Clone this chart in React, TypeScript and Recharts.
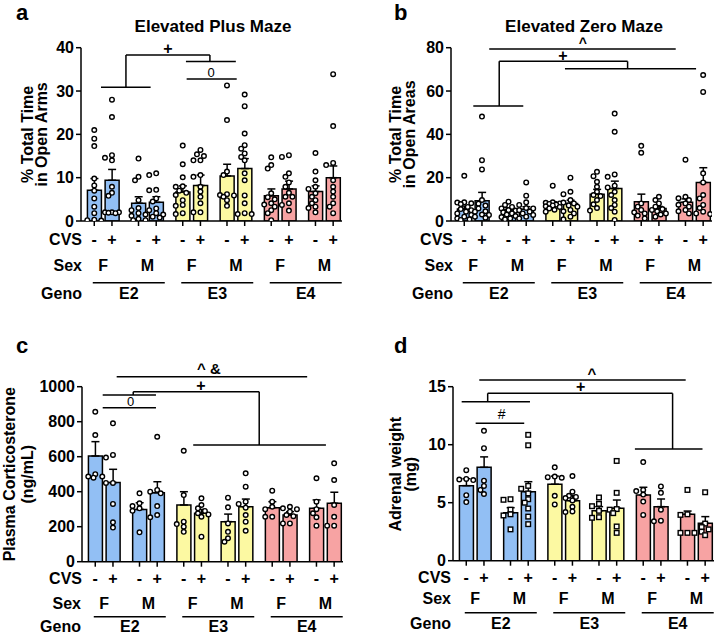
import React from 'react';
import { ComposedChart, Bar, Cell, ErrorBar, Scatter, XAxis, YAxis, ReferenceLine, ReferenceDot } from 'recharts';

const FONT = '"Liberation Sans", Arial, Helvetica, sans-serif';
const W = 359;
const H = 317;
const X_DOMAIN: [number, number] = [-1.5, 28];

const cvsLabels = ['-', '+', '-', '+', '-', '+', '-', '+', '-', '+', '-', '+'];
const sexLabels = ['F', 'M', 'F', 'M', 'F', 'M'];
const genoLabels = ['E2', 'E3', 'E4'];
const genoColors = ['#92bff4', '#fcf9a2', '#f7a3a3'];

// x slots: pairs of bars, wider gap between pairs
const barPos = cvsLabels.map((_, i) => Math.floor(i / 2) * 5 + (i % 2) * 2);
const sexPos = sexLabels.map((_, p) => p * 5 + 1);
const genoPos = genoLabels.map((_, g) => g * 10 + 3.9);

// a: Elevated Plus Maze, % time in open arms
const epmMean = [7.1, 9.4, 4.1, 4.3, 6.7, 8.2, 10.4, 12.1, 5.8, 7.4, 6.8, 10.0];
const epmSem = [2.7, 2.5, 1.5, 1.3, 1.4, 2.4, 2.7, 2.3, 1.6, 1.8, 1.3, 2.7];
const epmDots = [
  [21, 19, 17.3, 9.8, 8.2, 7, 5.2, 3.3, 1.8, 0.3, 0.2, 0.1],
  [28, 24, 15.2, 14.6, 14, 7.9, 6.5, 5.8, 2, 2, 2, 1.9, 1.8],
  [14.4, 10.2, 9.4, 4.8, 3, 2.5, 1.8, 1.5, 1.2, 0.5, 0.2, 0.2],
  [11, 10.6, 7.2, 7.1, 5.2, 4.5, 2.9, 2.5, 1.8, 1.5, 1.0, 0.8],
  [17.4, 13.1, 10.1, 8, 7.9, 7, 6.5, 6, 4.8, 3.7, 3.5, 1.8, 1.6],
  [16.4, 15.4, 15, 14, 14, 10.6, 10.2, 7.9, 6.8, 5.6, 4.1, 2, 2],
  [31.3, 23.3, 11.4, 10.6, 6.2, 6, 5.9, 5.6, 4.8, 3.5],
  [29.2, 26.5, 20.2, 17.5, 16.7, 15.6, 14.8, 14, 11, 9.4, 5.9, 4.1, 1.8, 1.6, 1.6],
  [14.7, 12.9, 12.1, 6.4, 5.5, 5, 4.1, 3.8, 3.3, 2.5, 1.8, 0.2],
  [15.2, 14.8, 11, 10.2, 8.9, 7.9, 6.5, 5.6, 5.6, 4.1, 3.7, 2.4],
  [15.7, 11.4, 9.4, 7.9, 7.4, 6.4, 5.6, 4.8, 4.1, 3.3, 3, 2],
  [33.9, 21.9, 13.4, 12.9, 9.4, 7.9, 6.8, 5.6, 4.1, 3.3, 1.8],
];
const epmLines = [
  [0.76, 30.9, 6.37, 30.9], [3.58, 30.9, 3.58, 38.3], [3.58, 38.3, 13.07, 38.3],
  [13.07, 38.3, 13.07, 36.8], [10.36, 36.8, 16.0, 36.8], [10.44, 32.8, 16.1, 32.8],
];
const epmMarks = [
  { x: 8.33, y: 38.5, t: '+', bold: true, size: 16 },
  { x: 13.2, y: 33.3, t: '0', bold: false, size: 13 },
];

// b: Elevated Zero Maze, % time in open areas
const ezmMean = [5.5, 9.4, 5.1, 5.4, 8.1, 8.1, 12.4, 15.0, 8.9, 5.8, 8.6, 17.8];
const ezmSem = [1.4, 3.8, 1.0, 1.2, 0.8, 1.5, 2.2, 3.4, 3.5, 0.9, 1.6, 6.8];
const ezmDots = [
  [20.9, 8.6, 8.5, 8.2, 7.8, 6.5, 5.5, 5, 4.3, 3.5, 2.8, 2, 1.2, 0.8, 0.5],
  [48.2, 28.1, 23.8, 9.7, 8, 7.1, 5.8, 4.5, 4.3, 3, 2.8, 2, 1.5],
  [8.9, 7.4, 6.5, 5.8, 5, 4.8, 4, 3.5, 3, 2.3, 1.8, 1.2, 0.8],
  [17.8, 11.7, 8.6, 7.4, 6, 5.8, 5, 4.3, 3.5, 2.8, 2, 1.2],
  [16.3, 8.6, 8.4, 8.1, 7.9, 7.6, 7.2, 6.8, 6.5, 5.8, 5.2, 4.3],
  [20, 13.5, 12.4, 9.7, 8.5, 8.1, 7.2, 6.6, 5.1, 4.5, 3.5, 2, 0.8],
  [22.7, 20.7, 18.1, 15.8, 13.5, 12, 11.5, 9.7, 7.7, 6, 4.8],
  [49.6, 41.2, 21.5, 20.4, 16.3, 15.5, 13.5, 12, 9.7, 7.4, 6, 4.3, 0.5],
  [34.7, 31.5, 8.1, 6.6, 5.1, 4, 3.5, 2.5, 1.2],
  [11.2, 9.7, 8.1, 6.6, 5.5, 5.1, 4.5, 3.5, 3, 2],
  [28.3, 11.2, 10.5, 9.7, 8.1, 7.5, 6.6, 5.1, 4.5, 3.5],
  [67.4, 59.6, 22, 17.8, 12, 10.4, 7.4, 6, 4.3, 3.5, 3.2],
];
const ezmLines = [
  [2.82, 79.4, 23.9, 79.4], [3.95, 73.7, 18.46, 73.7], [3.95, 73.7, 3.95, 53.1],
  [1.02, 53.1, 6.67, 53.1], [18.46, 73.7, 18.46, 70.3], [11.38, 70.3, 26.2, 70.3],
];
const ezmMarks = [
  { x: 13.4, y: 79.8, t: '^', bold: true, size: 14 },
  { x: 11.15, y: 74.0, t: '+', bold: true, size: 16 },
];

// c: plasma corticosterone (ng/mL)
const cortMean = [604, 452, 299, 394, 324, 277, 229, 314, 309, 267, 305, 334];
const cortSem = [82, 76, 38, 63, 76, 22, 43, 44, 34, 19, 48, 63];
const cortDots = [
  [857, 724, 500, 487, 487, 480],
  [791, 610, 595, 450, 450, 330, 225, 195],
  [391, 334, 318, 305, 291, 168],
  [714, 410, 400, 391, 318, 267, 254],
  [634, 381, 229, 215, 200, 171],
  [362, 324, 305, 290, 277, 270, 257, 143],
  [366, 311, 219, 171, 134, 114],
  [505, 429, 343, 330, 309, 267, 229, 177],
  [406, 343, 314, 300, 257, 257],
  [314, 305, 300, 286, 267, 260, 219, 219],
  [477, 343, 300, 277, 254, 206],
  [562, 467, 324, 257, 206, 206],
];
const cortLines = [
  [2.42, 1057, 23.95, 1057], [4.29, 971, 18.53, 971], [4.29, 971, 4.29, 953],
  [0.84, 953, 6.86, 953], [0.84, 880, 6.86, 880], [18.53, 971, 18.53, 667],
  [11.07, 667, 26.07, 667],
];
const cortMarks = [
  { x: 12.85, y: 1071, t: '^ &', bold: true, size: 15 },
  { x: 11.95, y: 978, t: '+', bold: true, size: 16 },
  { x: 4.0, y: 890, t: '0', bold: false, size: 13 },
];

// d: adrenal weight (mg)
const adrMean = [6.47, 8.05, 4.14, 5.95, 6.59, 5.17, 4.31, 4.52, 5.66, 4.66, 4.0, 3.22];
const adrSem = [0.6, 0.9, 0.43, 0.86, 0.7, 0.45, 0.35, 0.71, 0.67, 0.66, 0.28, 0.58];
const adrDots = [
  [7.8, 7.05, 7.0, 6.95, 5.65, 5.05],
  [11.2, 9.7, 6.9, 6.45, 6.1, 5.75],
  [5.3, 5.25, 4.4, 4.0, 3.9, 2.7],
  [10.85, 9.95, 6.45, 6.2, 5.8, 5.3, 5.0, 4.5, 3.8, 3.15],
  [8.05, 7.25, 7.2, 7.15, 5.6, 4.85],
  [7.3, 5.95, 5.6, 5.5, 5.4, 5.2, 4.65, 4.25, 4.2],
  [5.45, 4.9, 4.7, 4.3, 3.75, 3.7],
  [8.6, 5.85, 4.45, 4.4, 4.1, 2.95, 2.4],
  [8.5, 6.1, 6.0, 5.7, 5.1, 3.95],
  [6.4, 5.85, 4.4, 3.45, 3.4],
  [6.1, 4.0, 3.95, 2.4, 2.4, 2.4],
  [5.9, 3.2, 2.9, 2.7, 2.5, 2.2],
];
const adrLines = [
  [1.47, 15.58, 24.8, 15.58], [2.42, 14.43, 23.32, 14.43], [2.42, 14.43, 2.42, 13.71],
  [-0.52, 13.71, 7.2, 13.71], [23.32, 14.43, 23.32, 9.63], [19.06, 9.63, 26.7, 9.63],
  [1.06, 11.84, 6.55, 11.84],
];
const adrMarks = [
  { x: 14.2, y: 15.65, t: '^', bold: true, size: 15 },
  { x: 12.93, y: 14.55, t: '+', bold: true, size: 16 },
  { x: 4.0, y: 12.2, t: '#', bold: false, size: 14 },
];

const rowsTop = { cvsH: 30, sexH: 26, genoH: 30, cvsBase: 18.6, sexBase: 19.8, genoLine: 5.7, genoBase: 21.8 };
const rowsC = { cvsH: 28, sexH: 22, genoH: 22.3, cvsBase: 17.2, sexBase: 19.4, genoLine: 5, genoBase: 20.6 };
const rowsD = { cvsH: 26, sexH: 21, genoH: 26.3, cvsBase: 16.8, sexBase: 17.6, genoLine: 5, genoBase: 21.4 };

const txt = { fontFamily: FONT, fontWeight: 700, fontSize: 16, fill: '#000' };

// spread dots sideways inside a bar so they do not sit on top of each other
function swarm(vals: number[], pxPerY: number, pxPerX: number) {
  const cands = [0, -3.5, 3.5, -7, 7, -1.75, 1.75, -5.25, 5.25];
  const placed: { x: number; y: number }[] = [];
  vals.forEach((v) => {
    const y = v * pxPerY;
    let best = 0;
    let bestD = -1;
    for (const c of cands) {
      let d = Infinity;
      placed.forEach((p) => {
        d = Math.min(d, Math.hypot(c - p.x, y - p.y));
      });
      if (d >= 4.6) {
        best = c;
        break;
      }
      if (d > bestD) {
        bestD = d;
        best = c;
      }
    }
    placed.push({ x: best, y });
  });
  return placed.map((p) => p.x / pxPerX);
}

const renderDot = (p: any) =>
  p.payload && p.payload.sq ? (
    <rect x={p.cx - 2.3} y={p.cy - 2.3} width={4.6} height={4.6} fill="#fff" stroke="#000" strokeWidth={1.4} />
  ) : (
    <circle cx={p.cx} cy={p.cy} r={2.3} fill="#fff" stroke="#000" strokeWidth={1.4} />
  );

function Panel(props: any) {
  const { left, top, margin, rows, means, sems, dots, yMax, yTicks, lines, marks, squares } = props;
  const plotW = W - margin.left - margin.right - 60;
  const plotH = H - margin.top - margin.bottom - rows.cvsH - rows.sexH - rows.genoH;
  const pxX = plotW / (X_DOMAIN[1] - X_DOMAIN[0]);
  const pxY = plotH / yMax;

  const barData = means.map((m: number, i: number) => ({ x: barPos[i], y: m, err: [0, sems[i]] }));
  const dotData = dots.flatMap((vals: number[], i: number) => {
    const offs = swarm(vals, pxY, pxX);
    return vals.map((v, j) => ({
      x: barPos[i] + offs[j],
      y: v,
      sq: !!squares && Math.floor(i / 2) % 2 === 1,
    }));
  });

  return (
    <div style={{ position: 'absolute', left, top }}>
      <ComposedChart width={W} height={H} data={barData} margin={margin}>
        <XAxis
          dataKey="x"
          type="number"
          domain={X_DOMAIN}
          ticks={barPos}
          interval={0}
          allowDataOverflow
          height={rows.cvsH}
          tickSize={5}
          tickMargin={0}
          axisLine={{ stroke: '#000', strokeWidth: 1.5 }}
          tickLine={{ stroke: '#000', strokeWidth: 1.5 }}
          tick={(p: any) => (
            <text x={p.x} y={p.y + rows.cvsBase} textAnchor="middle" style={txt}>
              {cvsLabels[barPos.indexOf(p.payload.value)]}
            </text>
          )}
        />
        <XAxis
          xAxisId="b_geno"
          dataKey="x"
          type="number"
          domain={X_DOMAIN}
          ticks={genoPos}
          interval={0}
          allowDataOverflow
          height={rows.genoH}
          tickSize={0}
          tickMargin={0}
          axisLine={false}
          tickLine={false}
          tick={(p: any) => (
            <g>
              <line x1={p.x - 36} x2={p.x + 36} y1={p.y + rows.genoLine} y2={p.y + rows.genoLine} stroke="#000" strokeWidth={1.5} />
              <text x={p.x} y={p.y + rows.genoBase} textAnchor="middle" style={txt}>
                {genoLabels[genoPos.indexOf(p.payload.value)]}
              </text>
            </g>
          )}
        />
        <XAxis
          xAxisId="a_sex"
          dataKey="x"
          type="number"
          domain={X_DOMAIN}
          ticks={sexPos}
          interval={0}
          allowDataOverflow
          height={rows.sexH}
          tickSize={0}
          tickMargin={0}
          axisLine={false}
          tickLine={false}
          tick={(p: any) => (
            <text x={p.x} y={p.y + rows.sexBase} textAnchor="middle" style={txt}>
              {sexLabels[sexPos.indexOf(p.payload.value)]}
            </text>
          )}
        />
        <XAxis xAxisId="z_dots" dataKey="x" type="number" domain={X_DOMAIN} allowDataOverflow hide />
        <YAxis
          type="number"
          domain={[0, yMax]}
          ticks={yTicks}
          interval={0}
          allowDataOverflow
          width={60}
          tickSize={5}
          tickMargin={2}
          axisLine={{ stroke: '#000', strokeWidth: 1.5 }}
          tickLine={{ stroke: '#000', strokeWidth: 1.5 }}
          tick={{ ...txt }}
        />
        <Bar dataKey="y" barSize={14} stroke="#000" strokeWidth={1.5} isAnimationActive={false}>
          {means.map((_: number, i: number) => (
            <Cell key={i} fill={genoColors[Math.floor(i / 4)]} />
          ))}
          <ErrorBar dataKey="err" width={4} stroke="#000" strokeWidth={1.5} direction="y" />
        </Bar>
        <Scatter xAxisId="z_dots" data={dotData} dataKey="y" isAnimationActive={false} shape={renderDot} />
        {lines.map((l: number[], i: number) => (
          <ReferenceLine
            key={'l' + i}
            segment={[{ x: l[0], y: l[1] }, { x: l[2], y: l[3] }]}
            stroke="#000"
            strokeWidth={1.5}
            ifOverflow="visible"
          />
        ))}
        {marks.map((m: any, i: number) => (
          <ReferenceDot
            key={'m' + i}
            x={m.x}
            y={m.y}
            r={0}
            ifOverflow="visible"
            shape={(p: any) => (
              <text
                x={p.cx}
                y={p.cy}
                textAnchor="middle"
                style={{ fontFamily: FONT, fontWeight: m.bold ? 700 : 400, fontSize: m.size, fill: '#000' }}
              >
                {m.t}
              </text>
            )}
          />
        ))}
      </ComposedChart>
    </div>
  );
}

const flatText = [
  { x: 16, y: 20, t: 'a', size: 22, anchor: 'start' },
  { x: 394, y: 20, t: 'b', size: 22, anchor: 'start' },
  { x: 16, y: 353, t: 'c', size: 22, anchor: 'start' },
  { x: 394, y: 353, t: 'd', size: 22, anchor: 'start' },
  { x: 213, y: 32, t: 'Elevated Plus Maze', size: 17, anchor: 'middle' },
  { x: 584, y: 32, t: 'Elevated Zero Maze', size: 17, anchor: 'middle' },
  { x: 82, y: 244.6, t: 'CVS', size: 16, anchor: 'end' },
  { x: 82, y: 270.8, t: 'Sex', size: 16, anchor: 'end' },
  { x: 82, y: 298.8, t: 'Geno', size: 16, anchor: 'end' },
  { x: 453, y: 244.6, t: 'CVS', size: 16, anchor: 'end' },
  { x: 453, y: 270.8, t: 'Sex', size: 16, anchor: 'end' },
  { x: 453, y: 298.8, t: 'Geno', size: 16, anchor: 'end' },
  { x: 82, y: 583.9, t: 'CVS', size: 16, anchor: 'end' },
  { x: 81, y: 609.1, t: 'Sex', size: 16, anchor: 'end' },
  { x: 81, y: 632.3, t: 'Geno', size: 16, anchor: 'end' },
  { x: 451, y: 582.5, t: 'CVS', size: 16, anchor: 'end' },
  { x: 451, y: 604.3, t: 'Sex', size: 16, anchor: 'end' },
  { x: 451, y: 629.4, t: 'Geno', size: 16, anchor: 'end' },
];

const rotText = [
  { x: 33, y: 134.4, t: '% Total Time' },
  { x: 47, y: 134.4, t: 'in Open Arms' },
  { x: 401, y: 134.4, t: '% Total Time' },
  { x: 415, y: 134.4, t: 'in Open Areas' },
  { x: 15, y: 474.2, t: 'Plasma Corticosterone' },
  { x: 33, y: 474.2, t: '(ng/mL)' },
  { x: 401.5, y: 474.2, t: 'Adrenal weight' },
  { x: 416, y: 474.2, t: '(mg)' },
];

export default function App() {
  return (
    <div style={{ position: 'absolute', left: 0, top: 0, width: 718, height: 634, background: '#fff' }}>
      <Panel
        left={0}
        top={0}
        margin={{ top: 47.7, right: 17, bottom: 10, left: 21 }}
        rows={rowsTop}
        means={epmMean}
        sems={epmSem}
        dots={epmDots}
        yMax={40}
        yTicks={[0, 10, 20, 30, 40]}
        lines={epmLines}
        marks={epmMarks}
      />
      <Panel
        left={359}
        top={0}
        margin={{ top: 47.7, right: 6, bottom: 10, left: 32 }}
        rows={rowsTop}
        means={ezmMean}
        sems={ezmSem}
        dots={ezmDots}
        yMax={80}
        yTicks={[0, 20, 40, 60, 80]}
        lines={ezmLines}
        marks={ezmMarks}
      />
      <Panel
        left={0}
        top={317}
        margin={{ top: 69.7, right: 16, bottom: 0, left: 22 }}
        rows={rowsC}
        means={cortMean}
        sems={cortSem}
        dots={cortDots}
        yMax={1000}
        yTicks={[0, 200, 400, 600, 800, 1000]}
        lines={cortLines}
        marks={cortMarks}
      />
      <Panel
        left={359}
        top={317}
        margin={{ top: 69.7, right: 4, bottom: 0, left: 34 }}
        rows={rowsD}
        means={adrMean}
        sems={adrSem}
        dots={adrDots}
        yMax={15}
        yTicks={[0, 5, 10, 15]}
        lines={adrLines}
        marks={adrMarks}
        squares
      />
      <svg width={718} height={634} style={{ position: 'absolute', left: 0, top: 0, pointerEvents: 'none' }}>
        {flatText.map((d, i) => (
          <text
            key={'f' + i}
            x={d.x}
            y={d.y}
            textAnchor={d.anchor as any}
            style={{ fontFamily: FONT, fontWeight: 700, fontSize: d.size, fill: '#000' }}
          >
            {d.t}
          </text>
        ))}
        {rotText.map((d, i) => (
          <text
            key={'r' + i}
            x={d.x}
            y={d.y}
            textAnchor="middle"
            transform={`rotate(-90, ${d.x}, ${d.y})`}
            style={{ fontFamily: FONT, fontWeight: 700, fontSize: 16, fill: '#000' }}
          >
            {d.t}
          </text>
        ))}
      </svg>
    </div>
  );
}
